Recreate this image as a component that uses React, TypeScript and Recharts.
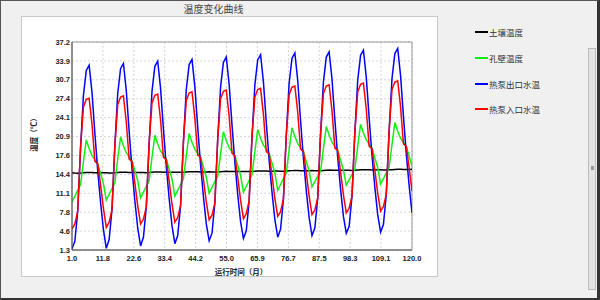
import React from 'react';
import { LineChart, Line, XAxis, YAxis, CartesianGrid, Legend, ReferenceArea } from 'recharts';

// month index (x categories)
const months = Array.from({ length: 120 }, (_, i) => i + 1);

// 土壤温度
const soilTemp = [
  14.62, 14.58, 14.56, 14.58, 14.62, 14.66, 14.68, 14.67, 14.65, 14.63, 14.62, 14.62,
  14.63, 14.61, 14.6, 14.62, 14.66, 14.7, 14.72, 14.71, 14.69, 14.68, 14.67, 14.67,
  14.68, 14.66, 14.65, 14.67, 14.71, 14.75, 14.77, 14.76, 14.74, 14.73, 14.72, 14.72,
  14.73, 14.71, 14.7, 14.72, 14.76, 14.8, 14.82, 14.81, 14.79, 14.78, 14.77, 14.78,
  14.79, 14.77, 14.76, 14.78, 14.82, 14.86, 14.88, 14.87, 14.85, 14.84, 14.84, 14.85,
  14.86, 14.84, 14.83, 14.85, 14.89, 14.93, 14.95, 14.94, 14.92, 14.91, 14.91, 14.92,
  14.93, 14.91, 14.9, 14.92, 14.96, 15.0, 15.02, 15.01, 14.99, 14.98, 14.98, 14.99,
  15.0, 14.98, 14.97, 14.99, 15.03, 15.07, 15.09, 15.08, 15.06, 15.05, 15.05, 15.06,
  15.07, 15.05, 15.04, 15.06, 15.1, 15.14, 15.16, 15.15, 15.13, 15.12, 15.12, 15.13,
  15.14, 15.12, 15.11, 15.13, 15.17, 15.21, 15.24, 15.23, 15.21, 15.2, 15.2, 15.22,
];

// 孔壁温度
const wallTemp = [
  9.5, 10.6, 11.6, 12.6, 16.5, 20.3, 18.8, 17.6, 16.9, 16.2, 14.5, 12.8,
  9.9, 10.9, 11.9, 12.9, 17.0, 20.8, 19.3, 18.1, 17.4, 16.7, 15.0, 13.3,
  10.3, 11.3, 12.3, 13.3, 17.3, 21.1, 19.6, 18.4, 17.7, 17.0, 15.3, 13.6,
  10.6, 11.6, 12.6, 13.6, 17.6, 21.4, 19.9, 18.7, 18.0, 17.3, 15.6, 13.9,
  11.1, 12.1, 13.1, 14.0, 17.9, 21.7, 20.2, 19.0, 18.3, 17.6, 15.9, 14.2,
  11.3, 12.3, 13.3, 14.3, 18.3, 22.1, 20.6, 19.4, 18.7, 18.0, 16.3, 14.6,
  11.6, 12.6, 13.6, 14.6, 18.6, 22.4, 20.9, 19.7, 19.0, 18.3, 16.6, 14.9,
  12.2, 13.1, 14.0, 14.9, 18.8, 22.6, 21.1, 19.9, 19.2, 18.5, 16.8, 15.1,
  12.5, 13.4, 14.3, 15.3, 19.2, 23.0, 21.5, 20.3, 19.6, 18.9, 17.2, 15.5,
  12.7, 13.6, 14.6, 15.6, 19.5, 23.3, 21.8, 20.6, 19.9, 19.2, 17.5, 15.8,
];

// 热泵出口水温
const outletTemp = [
  1.5, 2.8, 8.0, 19.0, 28.0, 32.3, 33.2, 28.5, 21.5, 15.0, 9.5, 4.8,
  1.6, 3.1, 8.3, 19.3, 28.3, 32.6, 33.5, 28.8, 21.8, 15.3, 9.8, 5.1,
  2.0, 3.5, 8.7, 19.7, 28.7, 33.0, 33.9, 29.2, 22.2, 15.7, 10.2, 5.5,
  2.4, 3.8, 9.0, 20.0, 29.0, 33.3, 34.2, 29.5, 22.5, 16.0, 10.5, 5.8,
  2.9, 4.2, 9.4, 20.4, 29.4, 33.7, 34.6, 29.9, 22.9, 16.4, 10.9, 6.2,
  3.3, 4.6, 9.8, 20.8, 29.8, 34.1, 35.0, 30.3, 23.3, 16.8, 11.3, 6.6,
  3.5, 4.9, 10.1, 21.1, 30.1, 34.4, 35.3, 30.6, 23.6, 17.1, 11.6, 6.9,
  3.8, 5.1, 10.3, 21.3, 30.3, 34.6, 35.5, 30.8, 23.8, 17.3, 11.8, 7.1,
  4.2, 5.4, 10.6, 21.6, 30.6, 34.9, 35.8, 31.1, 24.1, 17.6, 12.1, 7.4,
  4.4, 5.7, 10.9, 21.9, 30.9, 35.2, 36.1, 31.4, 24.4, 17.9, 12.4, 7.7,
];

// 热泵入口水温
const inletTemp = [
  4.9, 5.8, 8.0, 19.0, 26.0, 27.3, 27.5, 23.0, 16.6, 16.2, 12.5, 8.5,
  5.2, 6.1, 8.3, 19.3, 26.4, 27.7, 27.9, 23.4, 17.0, 16.6, 12.9, 8.9,
  5.8, 6.6, 8.7, 19.7, 26.7, 28.0, 28.2, 23.7, 17.3, 16.9, 13.2, 9.2,
  6.1, 6.9, 9.0, 20.0, 27.1, 28.4, 28.6, 24.1, 17.7, 17.3, 13.6, 9.6,
  6.5, 7.3, 9.4, 20.4, 27.4, 28.7, 28.9, 24.4, 18.0, 17.6, 13.9, 9.9,
  6.7, 7.6, 9.8, 20.8, 27.7, 29.0, 29.2, 24.7, 18.3, 17.9, 14.2, 10.2,
  7.1, 7.9, 10.1, 21.1, 28.1, 29.4, 29.6, 25.1, 18.7, 18.3, 14.6, 10.6,
  7.4, 8.2, 10.3, 21.3, 28.3, 29.6, 29.8, 25.3, 18.9, 18.5, 14.8, 10.8,
  7.7, 8.5, 10.6, 21.6, 28.6, 29.9, 30.1, 25.6, 19.2, 18.8, 15.1, 11.1,
  8.0, 8.8, 10.9, 21.9, 29.0, 30.3, 30.5, 26.0, 19.6, 19.2, 15.5, 11.5,
];

const xTicks = [1, 11.818, 22.636, 33.455, 44.273, 55.091, 65.909, 76.727, 87.545, 98.364, 109.182, 120];
const xTickLabels = ['1.0', '11.8', '22.6', '33.4', '44.2', '55.0', '65.9', '76.7', '87.5', '98.3', '109.1', '120.0'];
const yTicks = [1.3, 4.564, 7.827, 11.091, 14.355, 17.618, 20.882, 24.145, 27.409, 30.673, 33.936, 37.2];
const yTickLabels = ['1.3', '4.6', '7.8', '11.1', '14.4', '17.6', '20.9', '24.1', '27.4', '30.7', '33.9', '37.2'];

const seriesKeys = ['soil', 'wall', 'outlet', 'inlet'];
const seriesNames = ['土壤温度', '孔壁温度', '热泵出口水温', '热泵入口水温'];
const seriesColors = ['#000000', '#11ee11', '#0000ff', '#ff0000'];

const titleText = '温度变化曲线';
const yAxisTitle = '温度（℃）';
const xAxisTitle = '运行时间（月）';

const data = months.map((m, i) => ({
  month: m,
  soil: soilTemp[i],
  wall: wallTemp[i],
  outlet: outletTemp[i],
  inlet: inletTemp[i],
}));

const nearestLabel = (ticks: number[], labels: string[]) => (v: number) => {
  let best = 0;
  for (let i = 1; i < ticks.length; i++) {
    if (Math.abs(ticks[i] - v) < Math.abs(ticks[best] - v)) best = i;
  }
  return labels[best];
};

const tickFont = { fontSize: 7.5, fontWeight: 'bold', fill: '#222', fontFamily: '"Liberation Sans", Arial, sans-serif' };
const cjk = '"Noto Sans CJK SC", "Noto Sans", sans-serif';

const renderLegend = (props: any) => {
  const payload = (props.payload || []).slice().sort(
    (a: any, b: any) => seriesNames.indexOf(a.value) - seriesNames.indexOf(b.value)
  );
  return (
    <div style={{ fontFamily: cjk, fontSize: 8.5, color: '#333' }}>
      {payload.map((e: any) => (
        <div key={e.value} style={{ height: 25.7, display: 'flex', alignItems: 'center' }}>
          <div style={{ width: 13, height: 2, background: e.color, marginRight: 1 }} />
          <span style={{ whiteSpace: 'nowrap', lineHeight: '10px' }}>{e.value}</span>
        </div>
      ))}
    </div>
  );
};

export default function App() {
  return (
    <div style={{ position: 'absolute', left: 0, top: 0, width: 600, height: 300, background: '#f0f0f0', overflow: 'hidden' }}>
      <div style={{ position: 'absolute', left: 21, top: 16, width: 417, height: 261, background: '#fff', border: '1px solid #c8c8c8', boxSizing: 'border-box' }} />
      <div style={{ position: 'absolute', left: 0, top: 3, width: 427, textAlign: 'center', fontFamily: cjk, fontSize: 10, lineHeight: '12px', color: '#444' }}>
        {titleText}
      </div>
      <div style={{ position: 'absolute', left: 0, top: 0 }}>
        <LineChart width={600} height={300} data={data} margin={{ top: 42, right: 188, bottom: 0, left: 0 }}>
          <CartesianGrid stroke="#d4d4d4" strokeDasharray="2 2" />
          <ReferenceArea x1={1} x2={120} y1={1.3} y2={37.2} fill="none" fillOpacity={0} stroke="#999" strokeWidth={1} />
          <XAxis
            dataKey="month"
            type="number"
            domain={[1, 120]}
            ticks={xTicks}
            interval={0}
            allowDataOverflow
            tickFormatter={nearestLabel(xTicks, xTickLabels)}
            height={50}
            tickLine={false}
            tickSize={0}
            tickMargin={6}
            axisLine={{ stroke: '#555' }}
            tick={tickFont}
          />
          <YAxis
            type="number"
            domain={[1.3, 37.2]}
            ticks={yTicks}
            interval={0}
            allowDataOverflow
            tickFormatter={nearestLabel(yTicks, yTickLabels)}
            width={72}
            tickLine={false}
            tickSize={0}
            tickMargin={2}
            axisLine={{ stroke: '#555' }}
            tick={tickFont}
          />
          <Legend
            layout="horizontal"
            verticalAlign="middle"
            align="center"
            wrapperStyle={{ left: 475, top: 19.5, width: 110, height: 105 }}
            content={renderLegend}
          />
          {seriesKeys.map((k, i) => (
            <Line
              key={k}
              type="linear"
              dataKey={k}
              name={seriesNames[i]}
              stroke={seriesColors[i]}
              strokeWidth={1.5}
              dot={false}
              activeDot={false}
              isAnimationActive={false}
            />
          ))}
        </LineChart>
      </div>
      <div style={{ position: 'absolute', left: 33, top: 133, transform: 'translate(-50%, -50%) rotate(-90deg)', whiteSpace: 'nowrap', fontFamily: cjk, fontSize: 7.5, fontWeight: 'bold', color: '#222' }}>
        {yAxisTitle}
      </div>
      <div style={{ position: 'absolute', left: 241, top: 271, transform: 'translate(-50%, -50%)', whiteSpace: 'nowrap', fontFamily: cjk, fontSize: 7.5, fontWeight: 'bold', color: '#222' }}>
        {xAxisTitle}
      </div>
      <div style={{ position: 'absolute', left: 588, top: 48, width: 8, height: 242, background: '#e4e4e4', border: '1px solid #bcbcbc', boxSizing: 'border-box' }}>
        <div style={{ position: 'absolute', left: 2, top: 117, width: 3, height: 4, background: '#999' }} />
      </div>
      <div style={{ position: 'absolute', left: 0, top: 0, width: 600, height: 300, boxSizing: 'border-box', borderTop: '1px solid #555', borderLeft: '1px solid #555', borderBottom: '2px solid #333', borderRight: '3px solid #333', pointerEvents: 'none' }} />
    </div>
  );
}
